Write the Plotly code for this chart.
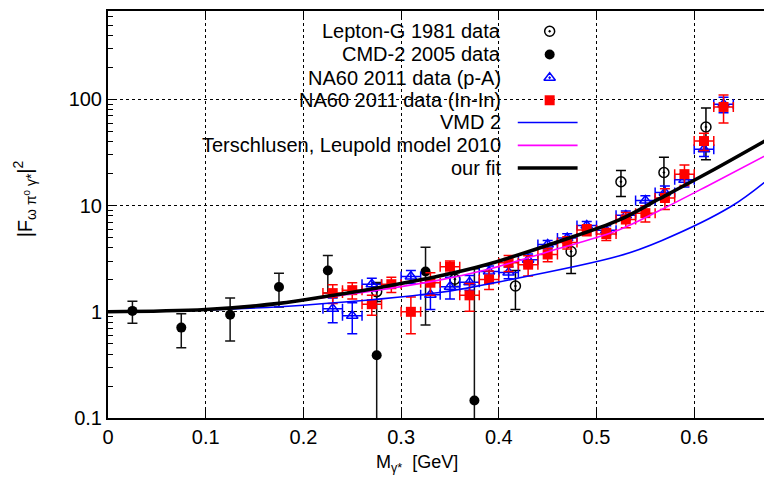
import plotly.graph_objects as go

# ---------------- data ----------------
# Lepton-G 1981 (open circles)
lep_x = [0.275, 0.355, 0.417, 0.474, 0.525, 0.569, 0.612]
lep_y = [1.55, 2.03, 1.75, 3.7, 16.8, 20.5, 55.0]
lep_err = [0.3, 0.3, 0.7, 1.4, 4.6, 8.0, 28.0]

# CMD-2 2005 (filled circles)
cmd_x = [0.025, 0.075, 0.125, 0.175, 0.225, 0.275, 0.325, 0.375]
cmd_y = [1.02, 0.71, 0.94, 1.71, 2.45, 0.39, 2.4, 0.146]
cmd_err = [0.24, 0.25, 0.41, 0.6, 0.95, 1.5, 1.65, 2.4]

# NA60 2011 p-A (open triangles)
pa_x = [0.23, 0.25, 0.27, 0.31, 0.33, 0.35, 0.37, 0.39, 0.41, 0.43, 0.45,
        0.47, 0.49, 0.51, 0.53, 0.55, 0.57, 0.59, 0.61, 0.63]
pa_y = [1.07, 0.92, 1.82, 2.15, 1.45, 1.72, 1.9, 2.4, 2.35, 3.1, 4.3,
        4.95, 6.5, 5.85, 8.1, 11.2, 13.3, 17.5, 34.0, 90.0]
pa_err = [0.28, 0.3, 0.25, 0.3, 0.4, 0.4, 0.3, 0.3, 0.3, 0.4, 0.4,
          0.5, 0.6, 0.6, 0.8, 1.2, 2.0, 2.5, 5.0, 15.0]
pa_xerr = [0.01] * len(pa_x)

# NA60 2011 In-In (filled squares)
inin_x = [0.23, 0.25, 0.27, 0.29, 0.31, 0.33, 0.35, 0.37, 0.39, 0.41, 0.43,
          0.45, 0.47, 0.49, 0.51, 0.53, 0.55, 0.57, 0.59, 0.61, 0.63]
inin_y = [1.5, 1.6, 1.18, 1.82, 1.0, 1.88, 2.66, 1.43, 2.02, 2.9, 2.78,
          3.47, 4.5, 5.9, 5.4, 7.4, 8.5, 11.8, 19.8, 40.6, 85.0]
inin_err = [0.3, 0.28, 0.25, 0.3, 0.38, 0.45, 0.35, 0.42, 0.4, 0.5, 0.6,
            0.5, 0.6, 0.7, 0.7, 1.2, 1.5, 2.6, 4.3, 7.5, 25.0]
inin_xerr = [0.01] * len(inin_x)

# curves
vmd_x = [0.0, 0.1, 0.2, 0.339, 0.385, 0.5227, 0.567, 0.638, 0.677]
vmd_y = [1.0, 1.04, 1.155, 1.52, 1.8, 3.35, 4.7, 9.86, 18.1]

tl_x = [0.0, 0.1, 0.2115, 0.339, 0.385, 0.4615, 0.5227, 0.5635, 0.6146, 0.677]
tl_y = [1.0, 1.05, 1.33, 1.99, 2.46, 3.95, 5.9, 8.9, 15.5, 31.0]

fit_x = [0.0, 0.1, 0.175, 0.224, 0.274, 0.339, 0.385, 0.4615, 0.5227, 0.5635, 0.6146, 0.677]
fit_y = [1.0, 1.05, 1.2, 1.4, 1.67, 2.17, 2.74, 4.6, 7.3, 11.5, 20.5, 43.0]

x_ticks = [0, 0.1, 0.2, 0.3, 0.4, 0.5, 0.6]
x_ticktext = ["0", "0.1", "0.2", "0.3", "0.4", "0.5", "0.6"]
y_ticks = [0.1, 1, 10, 100]
y_ticktext = ["0.1", "1", "10", "100"]
y_minor = [0.2, 0.3, 0.4, 0.5, 0.6, 0.7, 0.8, 0.9, 2, 3, 4, 5, 6, 7, 8, 9,
           20, 30, 40, 50, 60, 70, 80, 90, 200, 300, 400, 500, 600, 700]

legend_names = ["Lepton-G 1981 data", "CMD-2 2005 data", "NA60 2011 data (p-A)",
                "NA60 2011 data (In-In)", "VMD 2", "Terschlusen, Leupold model 2010",
                "our fit"]

# ---------------- layout geometry ----------------
# the page has an 8px body margin, so the figure is 8px smaller than the window
W, H = 764, 467
L, R, T, B = 100, 1, 1, 57
OFF = 8
PLOT_L, PLOT_R = OFF + L, OFF + W - R      # page coords of plot area
PLOT_T, PLOT_B = OFF + T, OFF + H - B
PW, PH = PLOT_R - PLOT_L, PLOT_B - PLOT_T
FONT = "Liberation Sans, Arial, Helvetica, sans-serif"
FS = 20

def px2x(px):
    return (px - PLOT_L) / PW

def py2y(py):
    return (PLOT_B - py) / PH

fig = go.Figure()

fig.add_trace(go.Scatter(
    x=lep_x, y=lep_y, mode="markers",
    marker=dict(symbol="circle-open-dot", size=10, color="black", line=dict(width=1.5, color="black")),
    error_y=dict(type="data", array=lep_err, color="black", thickness=1.5, width=5),
    showlegend=False))

fig.add_trace(go.Scatter(
    x=cmd_x, y=cmd_y, mode="markers",
    marker=dict(symbol="circle", size=10, color="black"),
    error_y=dict(type="data", array=cmd_err, color="#111111", thickness=1.5, width=5),
    showlegend=False))

fig.add_trace(go.Scatter(
    x=pa_x, y=pa_y, mode="markers",
    marker=dict(symbol="triangle-up-open-dot", size=10, color="#0000ff", line=dict(width=1.5, color="#0000ff")),
    error_y=dict(type="data", array=pa_err, color="#0000ff", thickness=1.5, width=5),
    error_x=dict(type="data", array=pa_xerr, color="#0000ff", thickness=1.5, width=5),
    showlegend=False))

fig.add_trace(go.Scatter(
    x=inin_x, y=inin_y, mode="markers",
    marker=dict(symbol="square", size=10, color="#ff0000"),
    error_y=dict(type="data", array=inin_err, color="#ff0000", thickness=1.5, width=5),
    error_x=dict(type="data", array=inin_xerr, color="#ff0000", thickness=1.5, width=5),
    showlegend=False))

fig.add_trace(go.Scatter(x=vmd_x, y=vmd_y, mode="lines",
                         line=dict(color="#0000ff", width=1.6, shape="spline"), showlegend=False))
fig.add_trace(go.Scatter(x=tl_x, y=tl_y, mode="lines",
                         line=dict(color="#ff00ff", width=1.6, shape="spline"), showlegend=False))
fig.add_trace(go.Scatter(x=fit_x, y=fit_y, mode="lines",
                         line=dict(color="black", width=3.6, shape="spline"), showlegend=False))

# ---------------- hand-made key (gnuplot style: text then sample) ----------------
rows = [29.3, 52.7, 76, 98.7, 121, 144, 166.7]
text_x = px2x(504)
sym_x = px2x(551)
line_x0, line_x1 = px2x(519), px2x(579)

key_markers = [
    dict(symbol="circle-open-dot", size=10, color="black", line=dict(width=1.5, color="black")),
    dict(symbol="circle", size=10, color="black"),
    dict(symbol="triangle-up-open-dot", size=10, color="#0000ff", line=dict(width=1.5, color="#0000ff")),
    dict(symbol="square", size=10, color="#ff0000"),
]
for i, mk in enumerate(key_markers):
    fig.add_trace(go.Scatter(x=[sym_x], y=[py2y(rows[i])], mode="markers", marker=mk,
                             xaxis="x2", yaxis="y2", showlegend=False, hoverinfo="skip"))
key_lines = [("#0000ff", 1.6), ("#ff00ff", 1.6), ("black", 3.6)]
for j, (c, w) in enumerate(key_lines):
    yy = py2y(rows[4 + j])
    fig.add_trace(go.Scatter(x=[line_x0, line_x1], y=[yy, yy], mode="lines",
                             line=dict(color=c, width=w), xaxis="x2", yaxis="y2",
                             showlegend=False, hoverinfo="skip"))

annotations = []
for i, name in enumerate(legend_names):
    annotations.append(dict(x=text_x, y=py2y(rows[i]), xref="paper", yref="paper",
                            text=name, showarrow=False, xanchor="right", yanchor="middle",
                            font=dict(family=FONT, size=FS, color="black")))

annotations.append(dict(x=px2x(24), y=py2y(198), xref="paper", yref="paper",
                        text="|F<sub>ω π<sup>0</sup> γ*</sub>|<sup>2</sup>", textangle=-90,
                        showarrow=False, xanchor="center", yanchor="middle",
                        font=dict(family=FONT, size=FS, color="black")))
annotations.append(dict(x=px2x(418), y=py2y(464), xref="paper", yref="paper",
                        text="M<sub>γ*</sub>  [GeV]", showarrow=False,
                        xanchor="center", yanchor="middle",
                        font=dict(family=FONT, size=FS - 2, color="black")))

# opaque key background hides the grid behind the key (as gnuplot does)
shapes = [dict(type="rect", xref="paper", yref="paper",
               x0=0, x1=px2x(590), y0=py2y(178), y1=1,
               fillcolor="white", line=dict(width=0), layer="between")]

fig.update_layout(
    width=W, height=H,
    margin=dict(l=L, r=R, t=T, b=B, pad=0),
    paper_bgcolor="white", plot_bgcolor="white",
    font=dict(family=FONT, size=FS, color="black"),
    showlegend=False,
    annotations=annotations,
    shapes=shapes,
    xaxis=dict(range=[0, PW / 980.0], tickvals=x_ticks, ticktext=x_ticktext,
               ticks="inside", ticklen=9, tickwidth=1, tickcolor="black",
               showline=True, linecolor="black", linewidth=2, mirror="ticks",
               showgrid=True, gridcolor="black", griddash="dot", gridwidth=1,
               zeroline=False, tickfont=dict(family=FONT, size=FS)),
    yaxis=dict(type="log", range=[-1, -1 + PH / 106.7], tickvals=y_ticks, ticktext=y_ticktext,
               ticks="inside", ticklen=9, tickwidth=1, tickcolor="black",
               showline=True, linecolor="black", linewidth=2, mirror="ticks",
               showgrid=True, gridcolor="black", griddash="dot", gridwidth=1,
               zeroline=False, tickfont=dict(family=FONT, size=FS),
               minor=dict(tickvals=y_minor, ticks="inside", ticklen=5, tickwidth=1,
                          tickcolor="black", showgrid=False)),
    xaxis2=dict(overlaying="x", range=[0, 1], visible=False, fixedrange=True),
    yaxis2=dict(overlaying="y", range=[0, 1], visible=False, fixedrange=True),
)

fig.write_html("out.html")
